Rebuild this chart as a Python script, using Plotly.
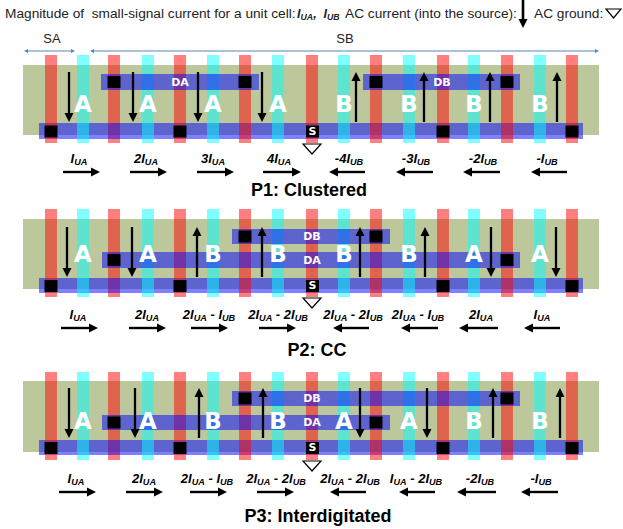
import plotly.graph_objects as go

# ---- layout data (pixel-like diagram units) ----
RED_X = [51, 114, 180, 245, 312, 376, 443, 507, 572]
CYAN_X = [83, 148, 213, 278, 344, 409, 474, 540]

PANEL_TITLES = ["P1: Clustered", "P2: CC", "P3: Interdigitated"]
TITLE_X = [309, 317, 318]
TITLE_Y = [190, 350, 516]

GATE_Y = [(55, 143), (209, 297), (372, 460)]
OLIVE_Y = [(65, 135), (219, 289), (381, 452)]
BOTTOM_Y = [(123, 139), (278, 293), (440, 455)]
DA_BAND = [(101, 259, 74, 90), (102, 520, 252, 268), (102, 390, 415, 430)]
DB_BAND = [(363, 520, 74, 90), (232, 390, 229, 244), (232, 520, 391, 406)]

BOTTOM_CONTACTS = [51, 180, 443, 572]
DA_CONTACTS = [[114, 245], [114, 507], [114, 376]]
DB_CONTACTS = [[376, 507], [245, 376], [245, 507]]
DA_LABEL = [(180, 82), (312, 260), (312, 422)]
DB_LABEL = [(442, 82), (312, 236), (312, 398)]

LETTERS = [list("AAAABBBB"), list("AABBBBAA"), list("AABBAABB")]
LETTER_Y = [105, 255, 422]

V_ARROW_X = [
    [69, 133, 198, 262, 356, 424, 490, 557],
    [67, 132, 197, 262, 360, 425, 491, 556],
    [69, 135, 199, 263, 360, 427, 493, 560],
]
V_ARROW_Y = [(72, 122), (227, 277), (388, 438)]

H_ARROWS = [
    [(63, 100), (130, 167), (197, 234), (263, 301), (365, 329), (433, 396), (500, 463), (567, 531)],
    [(61, 98), (129, 166), (191, 228), (259, 296), (369, 333), (438, 401), (498, 459), (560, 524)],
    [(59, 96), (126, 163), (190, 227), (257, 294), (366, 330), (435, 399), (496, 457), (558, 521)],
]
H_ARROW_Y = [172, 328, 492]


def cur(s):
    return "<b><i>" + s.replace("UA", "<sub>UA</sub>").replace("UB", "<sub>UB</sub>") + "</i></b>"


CURRENTS = [
    ["IUA", "2IUA", "3IUA", "4IUA", "-4IUB", "-3IUB", "-2IUB", "-IUB"],
    ["IUA", "2IUA", "2IUA - IUB", "2IUA - 2IUB", "2IUA - 2IUB", "2IUA - IUB", "2IUA", "IUA"],
    ["IUA", "2IUA", "2IUA - IUB", "2IUA - 2IUB", "2IUA - 2IUB", "IUA - 2IUB", "-2IUB", "-IUB"],
]
CURRENT_X = [
    [79, 146, 213, 279, 349, 416, 483, 547],
    [78, 147, 209, 278, 353, 418, 481, 542],
    [76, 144, 207, 276, 350, 416, 480, 541],
]
CURRENT_Y = [158, 314, 478]

RED = "rgba(255,0,0,0.5)"
CYAN = "rgba(0,255,255,0.5)"
BLUE = "rgba(0,0,255,0.5)"
OLIVE = "#bcc89c"
FONT = "Liberation Sans"
EDGE = "#5b85b5"

shapes = []
groups = {}


def rect(x0, x1, y0, y1, color):
    shapes.append(dict(type="rect", x0=x0, x1=x1, y0=y0, y1=y1, xref="x", yref="y",
                       fillcolor=color, line=dict(width=0), layer="below"))


def text(x, y, s, size, color="#000", anchor="center", family=FONT):
    g = groups.setdefault((size, color, anchor, family), ([], [], []))
    g[0].append(x)
    g[1].append(y + 1.5)
    g[2].append(s)


def head(x0, y0, x1, y1, length, half, color):
    dx, dy = x1 - x0, y1 - y0
    n = (dx * dx + dy * dy) ** 0.5
    ux, uy = dx / n, dy / n
    bx, by = x1 - ux * length, y1 - uy * length
    path = (f"M {x1} {y1} L {bx - uy * half} {by + ux * half} "
            f"L {bx + uy * half} {by - ux * half} Z")
    shapes.append(dict(type="path", path=path, xref="x", yref="y", fillcolor=color,
                       line=dict(width=0), layer="below"))
    return bx, by


def arrow(x0, y0, x1, y1, width=2.3, color="#000", length=9.0, half=4.5):
    bx, by = head(x0, y0, x1, y1, length, half, color)
    shapes.append(dict(type="line", x0=x0, y0=y0, x1=bx, y1=by, xref="x", yref="y",
                       line=dict(color=color, width=width), layer="below"))


def double_arrow(x0, x1, y, color):
    bx, _ = head(x0, y, x1, y, 4, 2, color)
    ax, _ = head(x1, y, x0, y, 4, 2, color)
    shapes.append(dict(type="line", x0=ax, y0=y, x1=bx, y1=y, xref="x", yref="y",
                       line=dict(color=color, width=1), layer="below"))


def triangle(x0, x1, y0, y1):
    shapes.append(dict(type="path", path=f"M {x0} {y0} L {x1} {y0} L {(x0 + x1) / 2} {y1} Z",
                       xref="x", yref="y", line=dict(color="#000", width=1.2),
                       fillcolor="#fff", layer="below"))


for i in range(3):
    gy0, gy1 = GATE_Y[i]
    rect(23, 599, OLIVE_Y[i][0], OLIVE_Y[i][1], OLIVE)
    rect(RED_X[1] - 6, RED_X[1] + 6, gy0, gy1, RED)
    rect(39, 583, BOTTOM_Y[i][0], BOTTOM_Y[i][1], BLUE)
    for k, x in enumerate(RED_X):
        if k != 1:
            rect(x - 6, x + 6, gy0, gy1, RED)
    for x in CYAN_X:
        rect(x - 6, x + 6, gy0, gy1, CYAN)
    for band in (DA_BAND[i], DB_BAND[i]):
        rect(band[0], band[1], band[2], band[3], BLUE)
    cy = (BOTTOM_Y[i][0] + BOTTOM_Y[i][1]) / 2 + 0.5
    for x in BOTTOM_CONTACTS:
        rect(x - 6.5, x + 6.5, cy - 6, cy + 6, "#000")
    rect(306, 319, cy - 6, cy + 6, "#000")
    text(312.5, cy - 1, "<b>S</b>", 11, "#fff", family="DejaVu Sans")
    ya = (DA_BAND[i][2] + DA_BAND[i][3]) / 2
    yb = (DB_BAND[i][2] + DB_BAND[i][3]) / 2
    for x in DA_CONTACTS[i]:
        rect(x - 6.5, x + 6.5, ya - 6, ya + 6, "#000")
    for x in DB_CONTACTS[i]:
        rect(x - 6.5, x + 6.5, yb - 6, yb + 6, "#000")
    text(DA_LABEL[i][0], DA_LABEL[i][1], "<b>DA</b>", 11, "#fff", family="DejaVu Sans")
    text(DB_LABEL[i][0], DB_LABEL[i][1], "<b>DB</b>", 11, "#fff", family="DejaVu Sans")
    triangle(303, 321, gy1 + 1, gy1 + 11)
    for x, ch in zip(CYAN_X, LETTERS[i]):
        text(x, LETTER_Y[i], f"<b>{ch}</b>", 23, "#fff", family="DejaVu Sans")
    for x, ch in zip(V_ARROW_X[i], LETTERS[i]):
        top, bot = V_ARROW_Y[i]
        if ch == "A":
            arrow(x, top, x, bot)
        else:
            arrow(x, bot, x, top)
    for (x0, x1), s, cx in zip(H_ARROWS[i], CURRENTS[i], CURRENT_X[i]):
        arrow(x0, H_ARROW_Y[i], x1, H_ARROW_Y[i], width=2.4)
        text(cx, CURRENT_Y[i], cur(s), 13)
    text(TITLE_X[i], TITLE_Y[i], f"<b>{PANEL_TITLES[i]}</b>", 18)

# header
text(5, 13, "Magnitude of  small-signal current for a unit cell:", 13.7, "#222", "left")
text(297, 13, cur("IUA") + "<b><i>,</i></b>  " + cur("IUB"), 12.5, "#222", "left")
text(345, 13, "AC current (into the source):", 13.7, "#222", "left")
arrow(523, 0, 523, 28, width=2.6)
text(534, 13, "AC ground:", 13.7, "#222", "left")
triangle(606, 621, 9, 18)
text(52, 38, "SA", 13, "#222")
text(345, 38, "SB", 13, "#222")
double_arrow(24, 75, 51, EDGE)
double_arrow(90, 599, 51, EDGE)

fig = go.Figure()
for (size, color, anchor, family), (xs, ys, ts) in groups.items():
    fig.add_trace(go.Scatter(
        x=xs, y=ys, text=ts, mode="text", hoverinfo="skip", cliponaxis=False,
        textposition="middle center" if anchor == "center" else "middle right",
        textfont=dict(size=size, color=color, family=family),
    ))
fig.update_layout(
    width=623, height=529, margin=dict(l=0, r=0, t=0, b=0),
    paper_bgcolor="#fff", plot_bgcolor="#fff", showlegend=False,
    xaxis=dict(range=[0, 623], visible=False, fixedrange=True),
    yaxis=dict(range=[529, 0], visible=False, fixedrange=True),
    shapes=shapes,
)
fig.write_html("out.html", post_script="document.body.style.margin='0';",
               config=dict(displayModeBar=False))
